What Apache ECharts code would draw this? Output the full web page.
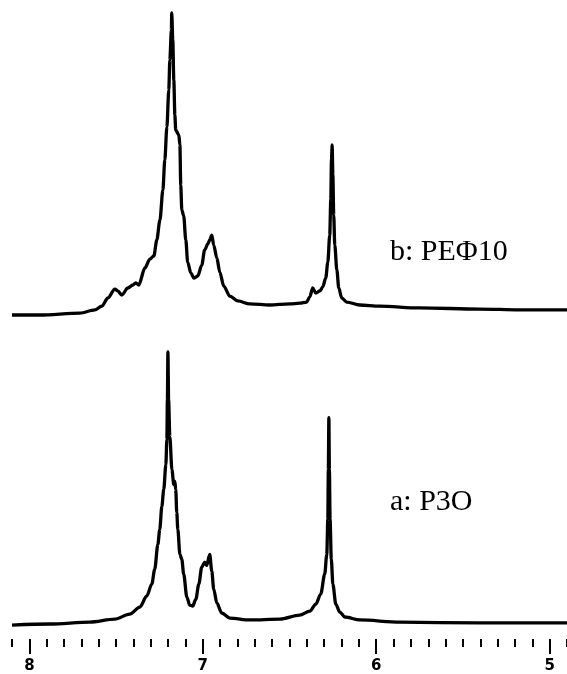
<!DOCTYPE html>
<html>
<head>
<meta charset="utf-8">
<script src="https://cdn.jsdelivr.net/npm/echarts@6/dist/echarts.min.js"></script>
<style>
  html, body { margin: 0; padding: 0; background: #fff; }
  #chart { width: 567px; height: 674px; }
</style>
</head>
<body>
<div id="chart"></div>
<script>
// chemical shift (ppm) / intensity pairs
const ppmB = [8.1, 7.939, 7.709, 7.622, 7.582, 7.547, 7.507, 7.49, 7.467, 7.432, 7.403, 7.386, 7.369, 7.334, 7.305, 7.282, 7.265, 7.247, 7.23, 7.219, 7.207, 7.196, 7.19, 7.181, 7.179, 7.173, 7.167, 7.161, 7.156, 7.138, 7.132, 7.127, 7.121, 7.11, 7.098, 7.087, 7.069, 7.052, 7.029, 7.006, 6.989, 6.971, 6.96, 6.948, 6.937, 6.919, 6.902, 6.879, 6.844, 6.798, 6.729, 6.614, 6.498, 6.441, 6.401, 6.383, 6.366, 6.348, 6.325, 6.308, 6.291, 6.279, 6.268, 6.262, 6.258, 6.254, 6.25, 6.245, 6.239, 6.227, 6.216, 6.199, 6.17, 6.095, 5.98, 5.75, 5.404, 5.174, 4.9]
const intB = [0, 0, 0.7, 1.9, 3.3, 6.3, 9.6, 8.9, 7.4, 10.0, 11.1, 11.9, 11.1, 17.4, 20.7, 21.9, 27.8, 35.2, 46.3, 57.4, 69.6, 83.3, 94.4, 105.6, 111.9, 101.9, 87.0, 74.1, 68.5, 66.7, 63.0, 48.1, 38.9, 36.7, 27.8, 19.6, 15.6, 13.7, 14.4, 18.5, 24.1, 26.3, 27.8, 29.6, 25.9, 21.1, 15.9, 10.7, 7.0, 5.2, 4.1, 3.7, 4.1, 4.4, 4.8, 6.7, 10.0, 8.1, 8.9, 10.4, 13.7, 19.6, 29.6, 42.6, 57.4, 63.0, 51.9, 37.0, 25.9, 16.7, 10.0, 6.3, 4.8, 3.7, 3.3, 2.6, 2.2, 1.9, 1.9]

const ppmA = [8.1, 7.881, 7.651, 7.507, 7.421, 7.363, 7.323, 7.294, 7.277, 7.259, 7.248, 7.236, 7.225, 7.213, 7.207, 7.204, 7.201, 7.197, 7.19, 7.178, 7.167, 7.161, 7.156, 7.15, 7.144, 7.132, 7.121, 7.11, 7.092, 7.075, 7.058, 7.04, 7.023, 7.006, 6.989, 6.977, 6.96, 6.948, 6.937, 6.919, 6.891, 6.844, 6.729, 6.556, 6.441, 6.383, 6.348, 6.32, 6.297, 6.285, 6.279, 6.276, 6.273, 6.27, 6.266, 6.259, 6.25, 6.233, 6.21, 6.181, 6.095, 5.864, 5.404, 4.9]
const intA = [-1.5, -1.1, -0.4, 0.7, 2.6, 5.2, 9.3, 13.7, 19.3, 28.5, 34.1, 42.6, 48.9, 58.1, 67.4, 82.2, 100, 82.2, 68.5, 56.3, 50.7, 51.9, 48.9, 40.4, 34.1, 24.8, 23.0, 17.4, 8.9, 5.9, 5.6, 8.1, 13.7, 20.0, 21.9, 20.7, 24.8, 18.5, 11.9, 6.7, 3.0, 1.1, 0.4, 0.7, 2.2, 3.7, 6.3, 10.0, 17.4, 24.8, 37.8, 56.3, 75.6, 56.3, 37.8, 23.0, 13.7, 6.3, 3.3, 1.5, 0.4, -0.4, -0.7, -0.7]

const majorTicks = [8, 7, 6, 5]
const minorTicks = []
for (let i = 49; i <= 81; i++) minorTicks.push(i / 10)

const labelB = 'b: PEΦ10'
const labelA = 'a: P3O'

const pairs = (xs, ys) => xs.map((x, i) => [x, ys[i]])

const chart = echarts.init(document.getElementById('chart'), null, { renderer: 'canvas' })

const hiddenX = {
  type: 'value', min: 4.9, max: 8.1, inverse: true,
  axisLine: { show: false, onZero: false }, axisTick: { show: false },
  axisLabel: { show: false }, splitLine: { show: false }
}
const hiddenY = {
  type: 'value', show: false, splitLine: { show: false }
}

chart.setOption({
  animation: false,
  backgroundColor: '#fff',
  grid: [
    { left: 12, right: 0, top: 0, height: 330 },
    { left: 12, right: 0, top: 340, height: 300 }
  ],
  xAxis: [
    Object.assign({ gridIndex: 0 }, hiddenX),
    {
      gridIndex: 1, type: 'value', min: 4.9, max: 8.1, inverse: true,
      position: 'bottom',
      axisLine: { show: false, onZero: false }, splitLine: { show: false },
      axisTick: { show: true, customValues: minorTicks, length: 8,
        lineStyle: { color: '#000', width: 2 } },
      axisLabel: { show: false }
    },
    {
      gridIndex: 1, type: 'value', min: 4.9, max: 8.1, inverse: true,
      position: 'bottom',
      axisLine: { show: false, onZero: false }, splitLine: { show: false },
      axisTick: { show: true, customValues: majorTicks, length: 15,
        lineStyle: { color: '#000', width: 2 } },
      axisLabel: {
        show: true, customValues: majorTicks, margin: 20,
        color: '#000', fontSize: 15, fontWeight: 'bold',
        fontFamily: 'DejaVu Sans'
      }
    }
  ],
  yAxis: [
    Object.assign({ gridIndex: 0, min: -5.56, max: 116.67 }, hiddenY),
    Object.assign({ gridIndex: 1, min: -6.67, max: 104.44 }, hiddenY)
  ],
  series: [
    {
      type: 'line', xAxisIndex: 0, yAxisIndex: 0, data: pairs(ppmB, intB),
      showSymbol: false, smooth: 0.3, smoothMonotone: 'x',
      lineStyle: { color: '#000', width: 3.3 }
    },
    {
      type: 'line', xAxisIndex: 1, yAxisIndex: 1, data: pairs(ppmA, intA),
      showSymbol: false, smooth: 0.3, smoothMonotone: 'x',
      lineStyle: { color: '#000', width: 3.3 }
    }
  ],
  graphic: [
    { type: 'text', left: 390, top: 237,
      style: { text: labelB, font: '30px "Liberation Serif"', fill: '#000' } },
    { type: 'text', left: 390, top: 487,
      style: { text: labelA, font: '30px "Liberation Serif"', fill: '#000' } }
  ]
})
</script>
</body>
</html>
